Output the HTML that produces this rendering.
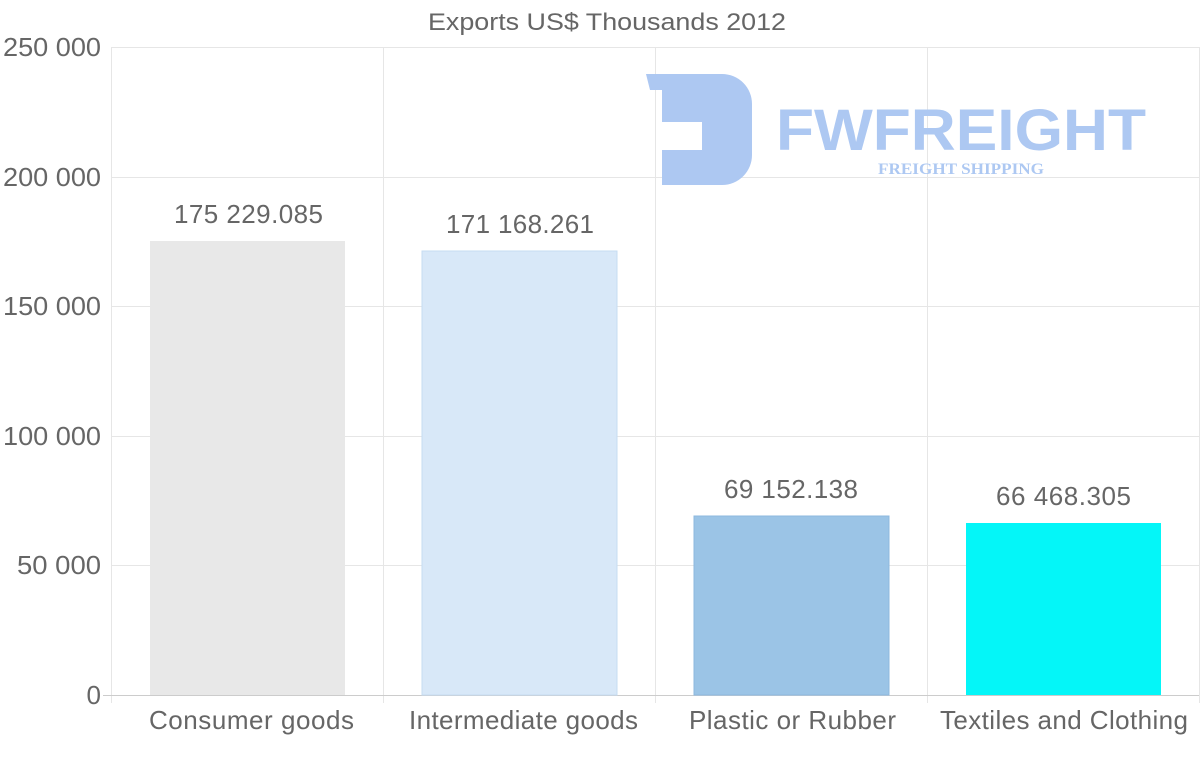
<!DOCTYPE html>
<html><head><meta charset="utf-8"><style>
html,body{margin:0;padding:0;background:#fff;}
svg{display:block;font-family:"Liberation Sans",Arial,sans-serif;}
</style></head><body>
<svg width="1200" height="763" viewBox="0 0 1200 763">
<text x="428" y="30" font-size="24" fill="#666" textLength="358" lengthAdjust="spacingAndGlyphs">Exports US$ Thousands 2012</text>
<g stroke="#e6e6e6" stroke-width="1">
<line x1="111" y1="47.5" x2="1199" y2="47.5"/>
<line x1="111" y1="177.5" x2="1199" y2="177.5"/>
<line x1="111" y1="306.5" x2="1199" y2="306.5"/>
<line x1="111" y1="436.5" x2="1199" y2="436.5"/>
<line x1="111" y1="565.5" x2="1199" y2="565.5"/>
<line x1="383.5" y1="47" x2="383.5" y2="703"/>
<line x1="655.5" y1="47" x2="655.5" y2="703"/>
<line x1="927.5" y1="47" x2="927.5" y2="703"/>
<line x1="1199.5" y1="47" x2="1199.5" y2="703"/>
<line x1="111.5" y1="47" x2="111.5" y2="703"/>
</g>
<line x1="103" y1="695.5" x2="1199" y2="695.5" stroke="#ccc"/>
<g fill="#adc8f2">
<path d="M646 74 H722 A30 30 0 0 1 752 104 V155 A30 30 0 0 1 722 185 H662 V150 H702 V122 H662 V90 H650 Z"/>
<text x="776" y="150" font-size="58" font-weight="bold" textLength="370" lengthAdjust="spacingAndGlyphs">FWFREIGHT</text>
<text x="878" y="174" font-size="16" font-weight="bold" font-family="Liberation Serif,serif" textLength="166" lengthAdjust="spacingAndGlyphs">FREIGHT SHIPPING</text>
</g>
<rect x="150" y="241" width="195" height="454" fill="#e8e8e8"/>
<rect x="422" y="251" width="195" height="444" fill="#d8e8f8" stroke="#c6dcf2"/>
<rect x="694" y="516" width="195" height="179" fill="#9bc4e6" stroke="#8db8df"/>
<rect x="966" y="523" width="195" height="172" fill="#04f6f8"/>
<g font-size="26" fill="#666" lengthAdjust="spacingAndGlyphs">
<text x="174" y="223" textLength="149">175 229.085</text>
<text x="446" y="233" textLength="148">171 168.261</text>
<text x="724" y="498" textLength="134">69 152.138</text>
<text x="996" y="505" textLength="135">66 468.305</text>
<text x="149" y="729" textLength="205">Consumer goods</text>
<text x="409" y="729" textLength="229">Intermediate goods</text>
<text x="689" y="729" textLength="207">Plastic or Rubber</text>
<text x="940" y="729" textLength="248">Textiles and Clothing</text>
</g>
<g font-size="26" fill="#666" text-anchor="end">
<text x="101" y="56" textLength="98" lengthAdjust="spacingAndGlyphs">250 000</text>
<text x="101" y="186" textLength="98" lengthAdjust="spacingAndGlyphs">200 000</text>
<text x="101" y="315" textLength="98" lengthAdjust="spacingAndGlyphs">150 000</text>
<text x="101" y="445" textLength="98" lengthAdjust="spacingAndGlyphs">100 000</text>
<text x="101" y="574" textLength="84" lengthAdjust="spacingAndGlyphs">50 000</text>
<text x="101" y="704">0</text>
</g>
</svg>
</body></html>
